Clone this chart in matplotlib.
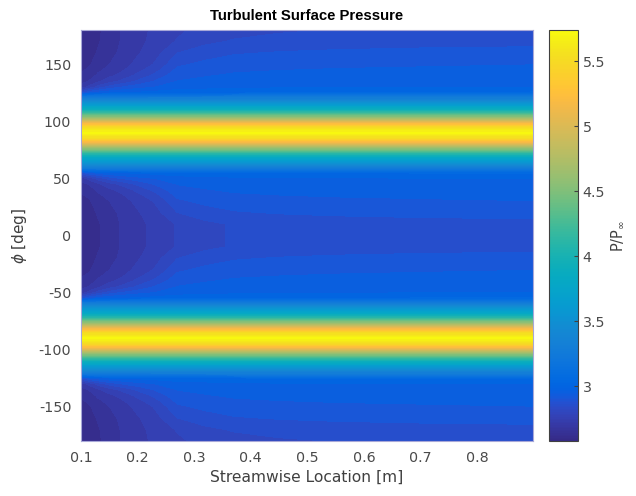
import numpy as np
import matplotlib
matplotlib.use('Agg')
import matplotlib.pyplot as plt
from matplotlib.colors import LinearSegmentedColormap, Normalize
from matplotlib.cm import ScalarMappable

plt.rcParams['font.family'] = 'DejaVu Sans'
plt.rcParams['axes.unicode_minus'] = False

# parula (MATLAB default colormap), 64 entries
parula_rgb = [
    [0.2081, 0.1663, 0.5292], [0.2116, 0.1898, 0.5777], [0.2123, 0.2138, 0.6270], [0.2081, 0.2386, 0.6771],
    [0.1959, 0.2645, 0.7279], [0.1707, 0.2919, 0.7792], [0.1253, 0.3242, 0.8303], [0.0591, 0.3598, 0.8683],
    [0.0117, 0.3875, 0.8820], [0.0060, 0.4086, 0.8828], [0.0165, 0.4266, 0.8786], [0.0329, 0.4430, 0.8720],
    [0.0498, 0.4586, 0.8641], [0.0629, 0.4737, 0.8554], [0.0723, 0.4887, 0.8467], [0.0779, 0.5040, 0.8384],
    [0.0793, 0.5200, 0.8312], [0.0749, 0.5375, 0.8263], [0.0641, 0.5570, 0.8240], [0.0488, 0.5772, 0.8228],
    [0.0343, 0.5966, 0.8199], [0.0265, 0.6137, 0.8135], [0.0239, 0.6287, 0.8038], [0.0231, 0.6418, 0.7913],
    [0.0228, 0.6535, 0.7768], [0.0267, 0.6642, 0.7607], [0.0384, 0.6743, 0.7436], [0.0590, 0.6838, 0.7254],
    [0.0843, 0.6928, 0.7062], [0.1133, 0.7015, 0.6859], [0.1453, 0.7098, 0.6646], [0.1801, 0.7177, 0.6424],
    [0.2178, 0.7250, 0.6193], [0.2586, 0.7317, 0.5954], [0.3022, 0.7376, 0.5712], [0.3482, 0.7424, 0.5473],
    [0.3953, 0.7459, 0.5244], [0.4420, 0.7481, 0.5033], [0.4871, 0.7491, 0.4840], [0.5300, 0.7491, 0.4661],
    [0.5709, 0.7485, 0.4494], [0.6099, 0.7473, 0.4337], [0.6473, 0.7456, 0.4188], [0.6834, 0.7435, 0.4044],
    [0.7184, 0.7411, 0.3905], [0.7525, 0.7384, 0.3768], [0.7858, 0.7356, 0.3633], [0.8185, 0.7327, 0.3498],
    [0.8507, 0.7299, 0.3360], [0.8824, 0.7274, 0.3217], [0.9139, 0.7258, 0.3063], [0.9450, 0.7261, 0.2886],
    [0.9739, 0.7314, 0.2666], [0.9938, 0.7455, 0.2403], [0.9990, 0.7653, 0.2164], [0.9955, 0.7861, 0.1967],
    [0.9880, 0.8066, 0.1794], [0.9789, 0.8271, 0.1633], [0.9697, 0.8481, 0.1475], [0.9626, 0.8705, 0.1309],
    [0.9589, 0.8949, 0.1132], [0.9598, 0.9218, 0.0948], [0.9661, 0.9514, 0.0755], [0.9763, 0.9831, 0.0538]]
parula = LinearSegmentedColormap.from_list('parula', parula_rgb, N=256)

# streamwise stations [m]
x_loc = [0.1, 0.115, 0.13, 0.15, 0.17, 0.2, 0.23, 0.27, 0.32, 0.37, 0.45, 0.55, 0.7, 0.9]
# angle from 0 to 90 deg (field is symmetric about 0 and +-90)
phi_half = [0, 10, 20, 30, 35, 40, 45, 50, 55, 60, 65, 70, 75, 80, 85, 90]
# P/Pinf for phi 0..55, one row per station
p_low = [
    [2.590, 2.592, 2.600, 2.612, 2.622, 2.645, 2.665, 2.700, 2.860],
    [2.605, 2.607, 2.613, 2.625, 2.640, 2.660, 2.685, 2.750, 2.920],
    [2.622, 2.625, 2.635, 2.655, 2.670, 2.690, 2.720, 2.800, 2.950],
    [2.650, 2.652, 2.660, 2.680, 2.695, 2.720, 2.760, 2.850, 2.970],
    [2.680, 2.682, 2.690, 2.705, 2.720, 2.745, 2.790, 2.880, 2.980],
    [2.713, 2.716, 2.725, 2.745, 2.765, 2.795, 2.840, 2.910, 2.990],
    [2.740, 2.745, 2.760, 2.785, 2.810, 2.845, 2.885, 2.930, 3.000],
    [2.770, 2.785, 2.830, 2.870, 2.893, 2.913, 2.933, 2.958, 3.010],
    [2.800, 2.820, 2.855, 2.895, 2.912, 2.928, 2.944, 2.964, 3.015],
    [2.815, 2.835, 2.875, 2.910, 2.924, 2.938, 2.952, 2.970, 3.020],
    [2.825, 2.845, 2.885, 2.917, 2.930, 2.942, 2.956, 2.974, 3.025],
    [2.832, 2.852, 2.892, 2.922, 2.934, 2.946, 2.959, 2.976, 3.030],
    [2.838, 2.858, 2.898, 2.926, 2.937, 2.949, 2.961, 2.978, 3.035],
    [2.842, 2.862, 2.903, 2.930, 2.941, 2.952, 2.964, 2.980, 3.040],
]
# phi 60..90 (pressure peak), same at every station
p_peak = [3.31, 3.60, 3.95, 4.45, 5.00, 5.50, 5.74]

P_half = np.array([row + p_peak for row in p_low]).T
ph = np.array(phi_half)
n = len(ph)
# unfold 0..90 onto -180..180 using the symmetry of the field
phi_full = np.concatenate([-180 + ph[:-1], -ph[::-1][:-1], ph[1:], 180 - ph[::-1][1:]])
rows = np.concatenate([np.arange(n - 1), np.arange(n)[::-1][:-1],
                       np.arange(1, n), np.arange(n)[::-1][1:]])
P = P_half[rows, :]

X, Y = np.meshgrid(x_loc, phi_full)

fig = plt.figure(figsize=(6.36, 4.96), dpi=100)
ax = fig.add_axes([0.1274, 0.1109, 0.7107, 0.8286])
vmin, vmax = 2.58, P.max()
levels = np.linspace(vmin, vmax, 64)
cf = ax.contourf(X, Y, P, levels=levels, cmap=parula, vmin=vmin, vmax=vmax)

ax.set_xlim(0.1, 0.899)
ax.set_ylim(-180, 180)
ax.set_xticks([0.1, 0.2, 0.3, 0.4, 0.5, 0.6, 0.7, 0.8])
ax.set_yticks([-150, -100, -50, 0, 50, 100, 150])
ax.tick_params(length=0, labelsize=10.3, labelcolor='#4a4a4a', pad=7)
for s in ax.spines.values():
    s.set_color('#a8a8d8')
    s.set_linewidth(0.8)
ax.set_title('Turbulent Surface Pressure', fontsize=10.7, fontweight='bold',
             family='Liberation Sans', pad=7)
ax.set_xlabel('Streamwise Location [m]', fontsize=11.2, color='#404040', labelpad=4)
ax.set_ylabel(r'$\phi$ [deg]', fontsize=11, color='#404040', labelpad=7)

cax = fig.add_axes([0.863, 0.1109, 0.0456, 0.8286])
sm = ScalarMappable(norm=Normalize(vmin, vmax), cmap=parula)
cb = fig.colorbar(sm, cax=cax, ticks=[3, 3.5, 4, 4.5, 5, 5.5])
cb.ax.set_yticklabels(['3', '3.5', '4', '4.5', '5', '5.5'])
cb.ax.tick_params(direction='in', length=3, labelsize=10.3, labelcolor='#4a4a4a', color='#404040')
cb.outline.set_edgecolor('#404040')
cb.outline.set_linewidth(0.8)
cb.set_label(r'P/P$_\infty$', fontsize=10.5, color='#404040', labelpad=3)

fig.savefig('out.png', dpi=100)
